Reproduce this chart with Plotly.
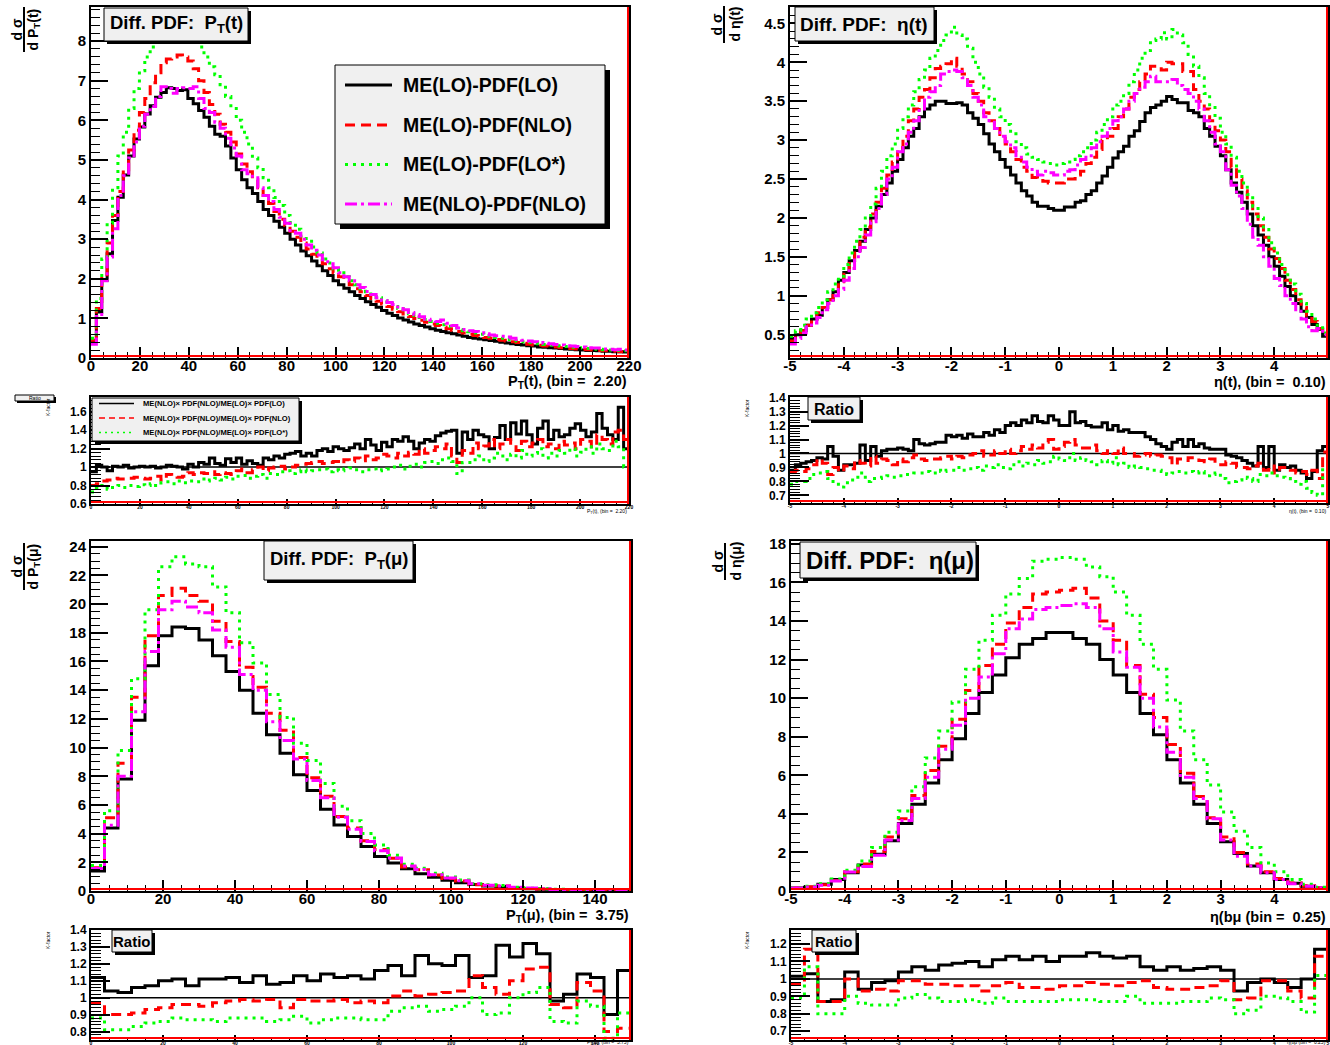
import numpy as np
import plotly.graph_objects as go

W, H = 1330, 1045
FONT = "Liberation Sans"
BLACK, RED, GREEN, MAGENTA = "#000000", "#ff0000", "#00ff00", "#ff00ff"

# ------------------------------------------------------------------
# P_T(t): 100 bins of 2.2 GeV
# ------------------------------------------------------------------
ptt_edges = np.round(np.arange(101) * 2.2, 4)
ptt_lo_lo = [
    0.42, 1.16, 1.96, 2.63, 3.47, 4.06, 4.62, 5.1, 5.53, 5.83,
    6.16, 6.37, 6.58, 6.7, 6.82, 6.8, 6.75, 6.77, 6.55, 6.42,
    6.25, 6.08, 5.85, 5.65, 5.6, 5.35, 5.05, 4.75, 4.5, 4.3,
    4.15, 3.95, 3.75, 3.6, 3.45, 3.3, 3.15, 3.0, 2.85, 2.7,
    2.58, 2.45, 2.33, 2.2, 2.08, 1.95, 1.85, 1.76, 1.67, 1.58,
    1.5, 1.42, 1.35, 1.28, 1.2, 1.13, 1.07, 1.01, 0.96, 0.91,
    0.86, 0.82, 0.78, 0.74, 0.7, 0.67, 0.64, 0.61, 0.58, 0.55,
    0.52, 0.5, 0.48, 0.46, 0.44, 0.42, 0.4, 0.38, 0.36, 0.34,
    0.33, 0.31, 0.3, 0.28, 0.27, 0.26, 0.25, 0.24, 0.23, 0.22,
    0.21, 0.2, 0.19, 0.19, 0.18, 0.17, 0.17, 0.16, 0.16, 0.15]
ptt_lo_nlo = [
    0.45, 1.25, 2.1, 2.9, 3.6, 4.2, 4.75, 5.25, 5.75, 6.2,
    6.55, 6.95, 7.2, 7.45, 7.55, 7.6, 7.65, 7.6, 7.5, 7.3,
    7.0, 6.7, 6.4, 6.15, 5.9, 5.7, 5.45, 5.15, 4.9, 4.7,
    4.5, 4.3, 4.1, 3.9, 3.7, 3.5, 3.35, 3.2, 3.05, 2.9,
    2.75, 2.62, 2.5, 2.38, 2.25, 2.15, 2.05, 1.95, 1.85, 1.75,
    1.67, 1.58, 1.5, 1.43, 1.36, 1.3, 1.23, 1.17, 1.11, 1.05,
    1.0, 0.95, 0.9, 0.86, 0.82, 0.78, 0.74, 0.7, 0.67, 0.63,
    0.6, 0.57, 0.55, 0.52, 0.5, 0.47, 0.45, 0.43, 0.41, 0.39,
    0.37, 0.35, 0.33, 0.32, 0.3, 0.29, 0.28, 0.26, 0.25, 0.24,
    0.23, 0.22, 0.21, 0.2, 0.19, 0.18, 0.18, 0.17, 0.16, 0.15]
ptt_lo_los = [
    0.5, 1.5, 2.5, 3.4, 4.3, 5.1, 5.7, 6.3, 6.8, 7.25,
    7.6, 7.85, 8.05, 8.2, 8.3, 8.35, 8.3, 8.25, 8.15, 8.0,
    7.85, 7.6, 7.35, 7.15, 6.9, 6.6, 6.3, 6.0, 5.7, 5.4,
    5.05, 4.8, 4.55, 4.3, 4.05, 3.85, 3.6, 3.42, 3.25, 3.08,
    2.95, 2.8, 2.65, 2.5, 2.4, 2.25, 2.15, 2.05, 1.95, 1.85,
    1.75, 1.67, 1.6, 1.52, 1.45, 1.38, 1.3, 1.25, 1.18, 1.12,
    1.07, 1.02, 0.97, 0.92, 0.88, 0.84, 0.8, 0.76, 0.72, 0.69,
    0.66, 0.63, 0.6, 0.57, 0.54, 0.52, 0.5, 0.47, 0.45, 0.43,
    0.41, 0.39, 0.37, 0.36, 0.34, 0.33, 0.31, 0.3, 0.29, 0.27,
    0.26, 0.25, 0.24, 0.23, 0.22, 0.21, 0.2, 0.19, 0.19, 0.18]
ptt_nlo_nlo = [
    0.35, 1.05, 1.95, 2.55, 3.26, 4.1, 4.6, 5.05, 5.45, 5.85,
    6.15, 6.35, 6.6, 6.85, 6.8, 6.68, 6.8, 6.82, 6.8, 6.85,
    6.55, 6.3, 6.2, 5.95, 5.8, 5.55, 5.3, 5.1, 4.75, 4.65,
    4.55, 4.3, 4.1, 3.95, 3.75, 3.55, 3.4, 3.22, 3.15, 3.0,
    2.85, 2.72, 2.6, 2.48, 2.38, 2.28, 2.15, 2.05, 1.95, 1.85,
    1.78, 1.68, 1.6, 1.52, 1.45, 1.4, 1.35, 1.29, 1.22, 1.15,
    1.1, 1.04, 0.98, 0.95, 0.92, 0.96, 0.88, 0.82, 0.76, 0.72,
    0.69, 0.67, 0.64, 0.61, 0.58, 0.56, 0.55, 0.53, 0.5, 0.47,
    0.45, 0.43, 0.41, 0.39, 0.37, 0.36, 0.34, 0.33, 0.31, 0.3,
    0.29, 0.28, 0.26, 0.25, 0.25, 0.23, 0.22, 0.21, 0.22, 0.2]
# K-factors: ME(NLO)xPDF(NLO) divided by each LO-ME variant
ptt_k_lo = [
    0.95, 1.02, 1.0, 0.96, 1.01, 1.0, 1.02, 0.99, 1.0, 1.01,
    1.0, 1.01, 0.99, 1.0, 1.02, 1.01, 1.0, 0.98, 1.03, 1.0,
    1.05, 1.03, 1.1, 1.04, 1.02, 1.09, 1.05, 1.1, 1.03, 1.07,
    1.04, 1.02, 1.1, 1.08, 1.12, 1.1, 1.14, 1.15, 1.17, 1.12,
    1.15, 1.12, 1.18, 1.2, 1.17, 1.22, 1.2, 1.18, 1.21, 1.25,
    1.2, 1.3, 1.24, 1.18, 1.27, 1.22, 1.3, 1.28, 1.33, 1.28,
    1.2, 1.26, 1.3, 1.28, 1.34, 1.37, 1.39, 1.4, 1.15, 1.38,
    1.3, 1.4, 1.35, 1.33, 1.2, 1.32, 1.45, 1.3, 1.48, 1.36,
    1.5, 1.35, 1.25, 1.42, 1.5, 1.3, 1.4, 1.33, 1.35, 1.42,
    1.47, 1.4, 1.33, 1.38, 1.58, 1.42, 1.35, 1.3, 1.65, 1.2]
ptt_k_nlo = [
    0.8, 0.82, 0.85, 0.86, 0.88, 0.87, 0.87, 0.88, 0.89, 0.88,
    0.87, 0.88, 0.9, 0.86, 0.92, 0.9, 0.89, 0.9, 0.94, 0.92,
    0.94, 0.93, 0.95, 0.92, 0.94, 0.93, 0.92, 0.96, 0.98, 0.94,
    0.97, 1.0, 0.96, 0.99, 1.0, 1.01, 0.98, 1.0, 1.02, 1.03,
    1.04, 1.05, 1.06, 1.04, 1.05, 1.06, 1.04, 1.08, 1.06, 1.1,
    1.07, 1.12, 1.08, 1.1, 1.14, 1.12, 1.1, 1.15, 1.12, 1.16,
    1.14, 1.2, 1.15, 1.18, 1.22, 1.2, 1.25, 1.12, 1.05, 1.18,
    1.15, 1.26, 1.2, 1.23, 1.3, 1.2, 1.25, 1.3, 1.22, 1.18,
    1.28, 1.22, 1.26, 1.3, 1.22, 1.25, 1.2, 1.28, 1.24, 1.26,
    1.2, 1.3, 1.28, 1.22, 1.35, 1.3, 1.25, 1.38, 1.4, 1.3]
ptt_k_los = [
    0.73, 0.77, 0.8, 0.76, 0.78, 0.8, 0.78, 0.8, 0.79, 0.81,
    0.8, 0.82, 0.8, 0.83, 0.84, 0.82, 0.85, 0.83, 0.85, 0.84,
    0.87, 0.85, 0.86, 0.88, 0.86, 0.89, 0.87, 0.9, 0.91, 0.88,
    0.9, 0.92, 0.88, 0.93, 0.92, 0.95, 0.96, 0.93, 0.95, 0.97,
    0.95, 0.96, 0.97, 0.98, 0.95, 0.97, 0.96, 0.98, 0.99, 0.97,
    0.95, 0.97, 0.98, 0.96, 0.97, 0.98, 1.0, 1.02, 0.98, 1.01,
    1.03, 1.0, 1.05, 1.06, 1.04, 1.08, 1.1, 1.06, 0.93, 1.05,
    1.05, 1.08, 1.12, 1.06, 1.1, 1.15, 1.12, 1.08, 1.14, 1.1,
    1.18, 1.12, 1.15, 1.2, 1.1, 1.15, 1.12, 1.18, 1.15, 1.2,
    1.12, 1.16, 1.22, 1.15, 1.25, 1.2, 1.18, 1.28, 1.22, 1.0]

# ------------------------------------------------------------------
# eta(t): 100 bins of 0.1
# ------------------------------------------------------------------
etat_edges = np.round(np.linspace(-5, 5, 101), 4)
etat_lo_lo = [
    0.45, 0.5, 0.55, 0.62, 0.7, 0.75, 0.85, 0.95, 1.05, 1.2,
    1.3, 1.45, 1.58, 1.7, 1.85, 2.0, 2.15, 2.3, 2.45, 2.6,
    2.75, 2.9, 3.05, 3.15, 3.3, 3.4, 3.45, 3.5, 3.5, 3.47,
    3.47, 3.48, 3.45, 3.35, 3.28, 3.2, 3.08, 2.95, 2.85, 2.75,
    2.65, 2.55, 2.45, 2.35, 2.28, 2.2, 2.15, 2.15, 2.12, 2.1,
    2.1, 2.14, 2.14, 2.2, 2.22, 2.3, 2.35, 2.45, 2.54, 2.65,
    2.77, 2.85, 2.92, 3.05, 3.12, 3.24, 3.35, 3.42, 3.45, 3.5,
    3.56, 3.52, 3.48, 3.48, 3.38, 3.35, 3.3, 3.15, 3.05, 2.92,
    2.8, 2.62, 2.45, 2.33, 2.2, 2.05, 1.9, 1.78, 1.65, 1.5,
    1.38, 1.25, 1.12, 1.0, 0.9, 0.8, 0.72, 0.63, 0.57, 0.48]
etat_lo_nlo = [
    0.42, 0.48, 0.55, 0.62, 0.7, 0.78, 0.85, 0.95, 1.05, 1.18,
    1.3, 1.45, 1.6, 1.75, 1.88, 2.05, 2.2, 2.38, 2.55, 2.72,
    2.9, 3.05, 3.25, 3.4, 3.55, 3.65, 3.8, 3.92, 3.95, 3.98,
    4.05, 3.95, 3.85, 3.75, 3.6, 3.5, 3.35, 3.25, 3.15, 3.05,
    2.95, 2.85, 2.75, 2.65, 2.6, 2.52, 2.48, 2.47, 2.45, 2.45,
    2.45, 2.5, 2.5, 2.55, 2.6, 2.7, 2.78, 2.88, 3.0, 3.05,
    3.15, 3.3, 3.4, 3.55, 3.65, 3.75, 3.85, 3.95, 3.95, 3.9,
    4.0, 3.98, 3.98, 3.88, 3.88, 3.65, 3.5, 3.4, 3.25, 3.12,
    3.0, 2.85, 2.65, 2.5, 2.35, 2.2, 2.05, 1.9, 1.75, 1.6,
    1.48, 1.35, 1.2, 1.08, 0.95, 0.85, 0.75, 0.67, 0.58, 0.5]
etat_lo_los = [
    0.48, 0.55, 0.62, 0.7, 0.78, 0.85, 0.95, 1.05, 1.15, 1.25,
    1.4, 1.55, 1.7, 1.85, 2.0, 2.18, 2.38, 2.6, 2.8, 2.95,
    3.15, 3.3, 3.45, 3.62, 3.78, 3.9, 4.05, 4.15, 4.28, 4.35,
    4.45, 4.35, 4.3, 4.18, 4.0, 3.85, 3.68, 3.55, 3.4, 3.3,
    3.2, 3.08, 2.98, 2.9, 2.82, 2.78, 2.75, 2.72, 2.7, 2.68,
    2.7, 2.72, 2.75, 2.8, 2.85, 2.9, 3.0, 3.1, 3.2, 3.3,
    3.45, 3.5, 3.6, 3.75, 3.9, 4.05, 4.15, 4.28, 4.3, 4.38,
    4.3, 4.42, 4.35, 4.25, 4.1, 3.95, 3.8, 3.6, 3.42, 3.28,
    3.1, 2.95, 2.78, 2.6, 2.45, 2.3, 2.15, 2.0, 1.85, 1.68,
    1.55, 1.4, 1.27, 1.15, 1.02, 0.9, 0.8, 0.7, 0.62, 0.52]
etat_nlo_nlo = [
    0.38, 0.45, 0.52, 0.6, 0.65, 0.72, 0.82, 0.9, 1.0, 1.08,
    1.2, 1.35, 1.5, 1.62, 1.78, 1.95, 2.12, 2.3, 2.5, 2.65,
    2.85, 2.95, 3.1, 3.25, 3.38, 3.55, 3.62, 3.7, 3.85, 3.88,
    3.9, 3.88, 3.8, 3.7, 3.55, 3.45, 3.3, 3.25, 3.15, 3.05,
    2.98, 2.9, 2.8, 2.72, 2.65, 2.6, 2.55, 2.6, 2.58, 2.55,
    2.55, 2.6, 2.62, 2.68, 2.75, 2.8, 2.9, 2.98, 3.05, 3.15,
    3.25, 3.3, 3.4, 3.5, 3.6, 3.68, 3.75, 3.82, 3.75, 3.75,
    3.75, 3.78, 3.7, 3.65, 3.6, 3.5, 3.4, 3.25, 3.1, 2.95,
    2.85, 2.62, 2.42, 2.28, 2.12, 1.92, 1.75, 1.65, 1.5, 1.38,
    1.22, 1.13, 1.0, 0.9, 0.8, 0.7, 0.6, 0.55, 0.58, 0.5]
etat_k_lo = [
    0.88, 0.92, 0.93, 0.94, 0.95, 0.97, 0.96, 1.05, 0.98, 0.88,
    0.92, 0.92, 0.93, 1.06, 0.95, 1.05, 0.98, 1.02, 1.03, 1.03,
    1.04, 1.03, 1.02, 1.1, 1.07, 1.06, 1.07, 1.08, 1.08, 1.13,
    1.12, 1.13, 1.11, 1.14, 1.12, 1.12, 1.15, 1.13, 1.17, 1.15,
    1.2, 1.22, 1.2, 1.24, 1.22, 1.27, 1.23, 1.22, 1.27, 1.24,
    1.2, 1.2, 1.3, 1.22, 1.23, 1.2, 1.19, 1.19, 1.22, 1.17,
    1.2, 1.16, 1.17, 1.15, 1.15, 1.15, 1.12, 1.1, 1.07, 1.05,
    1.03, 1.08, 1.1, 1.05, 1.1, 1.05, 1.07, 1.04, 1.03, 1.03,
    1.03, 0.99, 0.98, 0.97, 0.95, 0.93, 0.91, 1.05, 0.9, 1.05,
    0.88, 0.92, 0.9, 0.91, 0.88, 0.86, 0.82, 0.87, 1.02, 1.05]
etat_k_nlo = [
    0.87, 0.88, 0.87, 0.89, 0.92, 0.96, 0.93, 0.85, 0.9, 0.87,
    0.91, 0.89, 0.95, 0.93, 0.91, 0.98, 0.93, 0.96, 0.95, 0.92,
    0.96, 0.94, 0.97, 0.99, 0.96, 0.95, 0.96, 0.96, 0.97, 0.98,
    0.96, 0.98, 0.97, 0.99, 1.0, 1.02, 0.98, 0.99, 1.02, 1.0,
    1.03, 1.0, 1.02, 1.05, 1.03, 1.06, 1.04, 1.08, 1.1, 1.03,
    1.05, 1.08, 1.1, 1.06, 1.04, 1.04, 1.06, 1.02, 1.0, 1.02,
    1.0, 1.04, 1.0, 1.0, 0.98, 0.99, 1.0, 0.98, 0.99, 0.98,
    0.97, 0.92, 0.96, 0.95, 0.97, 0.97, 0.95, 0.94, 0.96, 0.92,
    0.92, 0.94, 0.93, 0.9, 0.9, 0.89, 0.91, 0.93, 0.88, 0.91,
    0.86, 0.9, 0.9, 0.88, 0.86, 0.87, 0.85, 0.88, 0.82, 1.01]
etat_k_los = [
    0.78, 0.8, 0.8, 0.82, 0.85, 0.86, 0.87, 0.82, 0.78, 0.76,
    0.79, 0.81, 0.83, 0.86, 0.8, 0.82, 0.82, 0.83, 0.84, 0.83,
    0.84, 0.85, 0.85, 0.86, 0.86, 0.87, 0.86, 0.88, 0.87, 0.88,
    0.88, 0.9, 0.88, 0.89, 0.9, 0.88, 0.91, 0.9, 0.92, 0.9,
    0.89, 0.92, 0.94, 0.91, 0.93, 0.92, 0.95, 0.93, 0.94, 0.98,
    0.96, 0.95, 1.0, 0.95, 0.97, 0.95, 0.94, 0.92, 0.95, 0.93,
    0.97, 0.92, 0.93, 0.9, 0.91, 0.9, 0.89, 0.88, 0.88, 0.87,
    0.85, 0.86, 0.87, 0.86, 0.87, 0.86, 0.87, 0.84, 0.85, 0.86,
    0.82, 0.79, 0.8, 0.81, 0.83, 0.82, 0.8, 0.85, 0.84, 0.86,
    0.84, 0.83, 0.82, 0.8, 0.78, 0.8, 0.75, 0.72, 0.7, 0.9]

# ------------------------------------------------------------------
# P_T(mu): 40 bins of 3.75 GeV
# ------------------------------------------------------------------
ptmu_edges = np.round(np.arange(41) * 3.75, 4)
ptmu_lo_lo = [
    1.4, 4.4, 7.8, 11.9, 15.7, 17.8, 18.4, 18.3, 17.5, 16.4,
    15.3, 14.0, 12.4, 10.9, 9.6, 8.1, 7.0, 5.7, 4.6, 3.8,
    3.1, 2.4, 1.95, 1.55, 1.2, 0.95, 0.75, 0.58, 0.45, 0.35,
    0.27, 0.21, 0.16, 0.13, 0.1, 0.08, 0.06, 0.05, 0.04, 0.03]
ptmu_lo_nlo = [
    1.62, 5.1, 8.9, 13.5, 17.8, 20.6, 21.1, 20.6, 20.2, 18.8,
    17.4, 15.6, 14.2, 12.4, 11.2, 9.3, 7.9, 6.6, 5.2, 4.4,
    3.5, 2.9, 2.28, 1.68, 1.48, 1.12, 0.87, 0.69, 0.44, 0.38,
    0.34, 0.24, 0.18, 0.14, 0.1, 0.085, 0.075, 0.053, 0.044, 0.043]
ptmu_lo_los = [
    1.78, 5.6, 9.8, 14.8, 19.6, 22.6, 23.3, 22.8, 22.6, 21.2,
    19.4, 17.3, 15.9, 13.7, 12.1, 10.3, 9.1, 7.5, 5.9, 4.9,
    4.0, 3.2, 2.5, 1.86, 1.58, 1.24, 0.97, 0.76, 0.5, 0.44,
    0.38, 0.26, 0.2, 0.15, 0.12, 0.09, 0.07, 0.06, 0.046, 0.04]
ptmu_nlo_nlo = [
    1.57, 4.58, 8.0, 12.5, 16.7, 19.6, 20.2, 19.8, 19.4, 18.2,
    17.0, 15.1, 14.0, 11.8, 10.5, 9.2, 7.7, 6.5, 5.15, 4.3,
    3.45, 2.8, 2.3, 1.75, 1.5, 1.14, 0.9, 0.72, 0.5, 0.4,
    0.35, 0.26, 0.21, 0.16, 0.1, 0.08, 0.07, 0.055, 0.035, 0.035]
ptmu_k_lo = [
    1.12, 1.04, 1.03, 1.06, 1.07, 1.1, 1.11, 1.07, 1.11, 1.11,
    1.12, 1.09, 1.13, 1.08, 1.09, 1.13, 1.1, 1.14, 1.12, 1.13,
    1.11, 1.16, 1.19, 1.13, 1.25, 1.2, 1.19, 1.25, 1.12, 1.13,
    1.31, 1.24, 1.32, 1.26, 0.98, 1.02, 1.14, 1.12, 0.9, 1.16]
ptmu_k_nlo = [
    0.97, 0.9, 0.9, 0.91, 0.93, 0.94, 0.96, 0.96, 0.95, 0.97,
    0.98, 0.99, 0.98, 0.99, 0.94, 0.99, 0.98, 0.98, 0.99, 0.97,
    0.98, 0.97, 1.01, 1.04, 1.01, 1.02, 1.03, 1.04, 1.13, 1.06,
    1.02, 1.1, 1.17, 1.18, 0.96, 0.94, 1.09, 1.04, 0.8, 0.82]
ptmu_k_los = [
    0.88, 0.81, 0.81, 0.83, 0.85, 0.86, 0.88, 0.87, 0.87, 0.86,
    0.88, 0.88, 0.88, 0.86, 0.87, 0.89, 0.85, 0.87, 0.88, 0.88,
    0.87, 0.87, 0.92, 0.94, 0.95, 0.92, 0.93, 0.95, 1.0, 0.9,
    0.91, 1.0, 1.03, 1.06, 0.86, 0.85, 0.98, 0.95, 0.76, 0.91]

# ------------------------------------------------------------------
# eta(mu): 40 bins of 0.25
# ------------------------------------------------------------------
etamu_edges = np.round(np.linspace(-5, 5, 41), 4)
etamu_lo_lo = [
    0.15, 0.2, 0.35, 0.6, 0.95, 1.35, 1.9, 2.6, 3.5, 4.5,
    5.6, 6.8, 7.9, 9.2, 10.3, 11.2, 12.1, 12.8, 13.1, 13.4,
    13.4, 13.1, 12.8, 12.0, 11.2, 10.3, 9.2, 8.1, 6.8, 5.6,
    4.5, 3.5, 2.55, 1.95, 1.3, 0.95, 0.6, 0.4, 0.25, 0.15]
etamu_lo_nlo = [
    0.15, 0.22, 0.33, 0.55, 1.0, 1.4, 2.05, 2.8, 3.75, 4.95,
    6.25, 7.5, 8.9, 10.4, 11.7, 12.8, 13.9, 14.7, 15.4, 15.5,
    15.6, 15.7, 15.2, 14.0, 13.0, 11.7, 10.2, 9.0, 7.6, 6.1,
    4.9, 3.8, 2.8, 2.0, 1.4, 1.0, 0.65, 0.42, 0.27, 0.15]
etamu_lo_los = [
    0.17, 0.25, 0.38, 0.62, 1.08, 1.55, 2.25, 3.05, 4.15, 5.4,
    6.9, 8.3, 9.8, 11.5, 13.0, 14.3, 15.4, 16.2, 17.1, 17.2,
    17.3, 17.2, 16.8, 16.3, 15.5, 14.3, 12.8, 11.5, 9.9, 8.3,
    6.8, 5.5, 4.1, 3.1, 2.25, 1.45, 1.0, 0.6, 0.35, 0.2]
etamu_nlo_nlo = [
    0.15, 0.21, 0.3, 0.52, 0.98, 1.27, 1.86, 2.65, 3.65, 4.8,
    5.9, 7.35, 8.6, 10.0, 11.1, 12.3, 13.6, 14.1, 14.6, 14.7,
    14.8, 14.9, 14.7, 13.6, 12.4, 11.6, 10.0, 8.5, 7.2, 5.9,
    4.8, 3.75, 2.65, 1.8, 1.3, 0.95, 0.6, 0.38, 0.25, 0.17]
etamu_k_lo = [
    1.015, 1.03, 0.87, 0.88, 1.04, 0.94, 0.98, 0.99, 1.04, 1.07,
    1.05, 1.08, 1.09, 1.1, 1.07, 1.11, 1.13, 1.11, 1.13, 1.1,
    1.13, 1.13, 1.15, 1.13, 1.12, 1.13, 1.07, 1.05, 1.07, 1.05,
    1.06, 1.07, 1.05, 0.93, 0.98, 1.0, 0.98, 0.95, 1.0, 1.17]
etamu_k_nlo = [
    0.97, 1.17, 0.87, 0.87, 1.0, 0.93, 0.94, 0.93, 0.99, 0.99,
    0.97, 0.97, 0.96, 0.96, 0.93, 0.96, 0.98, 0.95, 0.95, 0.94,
    0.96, 0.96, 0.98, 0.97, 0.96, 0.98, 0.99, 0.95, 0.94, 0.94,
    0.95, 0.96, 0.99, 0.88, 0.89, 0.99, 0.99, 0.93, 0.89, 1.13]
etamu_k_los = [
    0.89, 1.07, 0.8, 0.8, 0.9, 0.86, 0.85, 0.85, 0.89, 0.91,
    0.89, 0.87, 0.87, 0.88, 0.86, 0.89, 0.87, 0.87, 0.87, 0.87,
    0.88, 0.88, 0.88, 0.87, 0.87, 0.9, 0.86, 0.86, 0.86, 0.87,
    0.87, 0.89, 0.88, 0.8, 0.82, 0.9, 0.89, 0.87, 0.81, 1.02]

# pseudorapidity axis tick labels (plain hyphen minus, as ROOT prints them)
ETA_TICKS = [-5, -4, -3, -2, -1, 0, 1, 2, 3, 4, 5]
ETA_LABELS = ["-5", "-4", "-3", "-2", "-1", "0", "1", "2", "3", "4", "5"]

LEGEND_MAIN = ["ME(LO)-PDF(LO)", "ME(LO)-PDF(NLO)", "ME(LO)-PDF(LO*)", "ME(NLO)-PDF(NLO)"]
LEGEND_RATIO = ["ME(NLO)\u00d7 PDF(NLO)/ME(LO)\u00d7 PDF(LO)",
                "ME(NLO)\u00d7 PDF(NLO)/ME(LO)\u00d7 PDF(NLO)",
                "ME(NLO)\u00d7 PDF(NLO)/ME(LO)\u00d7 PDF(LO*)"]

# line styles (ROOT-like: solid, dashed, dotted, dash-dot)
MAIN_STYLES = [(BLACK, "solid"), (RED, "10px,6px"), (GREEN, "3px,5px"), (MAGENTA, "12px,4px,3px,4px")]
RATIO_STYLES = [(BLACK, "solid"), (RED, "10px,6px"), (GREEN, "3px,5px")]


def px(x):
    return x / W


def py(y):
    return 1 - y / H


def sfx(n):
    return "" if n == 1 else str(n)


fig = go.Figure()


def hist(edges, vals, color, dash, n, width=3):
    xs = list(edges)
    ys = list(vals) + [vals[-1]]
    fig.add_trace(go.Scatter(
        x=xs, y=ys, mode="lines",
        line=dict(shape="hv", color=color, dash=dash, width=width),
        xaxis=f"x{sfx(n)}", yaxis=f"y{sfx(n)}", showlegend=False, hoverinfo="skip"))


# panel definitions: pixel box (left, right, top, bottom)
panels = [
    dict(n=1, edges=ptt_edges, data=[ptt_lo_lo, ptt_lo_nlo, ptt_lo_los, ptt_nlo_nlo],
         box=(91, 629, 7, 358), xr=[0, 220], yr=[0, 8.86], xd=20, xm=5, yd=1, ym=0.2, main=True, eta=False),
    dict(n=2, edges=ptt_edges, data=[ptt_k_lo, ptt_k_nlo, ptt_k_los],
         box=(91, 629, 397, 504), xr=[0, 220], yr=[0.6, 1.76], xd=20, xm=5, yd=0.2, ym=0.04, main=False, eta=False),
    dict(n=3, edges=etat_edges, data=[etat_lo_lo, etat_lo_nlo, etat_lo_los, etat_nlo_nlo],
         box=(790, 1328, 7, 358), xr=[-5, 5], yr=[0.2, 4.71], xd=1, xm=0.2, yd=0.5, ym=0.1, main=True, eta=True),
    dict(n=4, edges=etat_edges, data=[etat_k_lo, etat_k_nlo, etat_k_los],
         box=(790, 1328, 397, 503), xr=[-5, 5], yr=[0.645, 1.405], xd=1, xm=0.2, yd=0.1, ym=0.02, main=False, eta=True),
    dict(n=5, edges=ptmu_edges, data=[ptmu_lo_lo, ptmu_lo_nlo, ptmu_lo_los, ptmu_nlo_nlo],
         box=(91, 631, 541, 891), xr=[0, 150], yr=[0, 24.4], xd=20, xm=5, yd=2, ym=0.5, main=True, eta=False),
    dict(n=6, edges=ptmu_edges, data=[ptmu_k_lo, ptmu_k_nlo, ptmu_k_los],
         box=(91, 631, 930, 1040), xr=[0, 150], yr=[0.75, 1.4], xd=20, xm=5, yd=0.1, ym=0.02, main=False, eta=False),
    dict(n=7, edges=etamu_edges, data=[etamu_lo_lo, etamu_lo_nlo, etamu_lo_los, etamu_nlo_nlo],
         box=(791, 1328, 541, 891), xr=[-5, 5], yr=[0, 18.15], xd=1, xm=0.25, yd=2, ym=0.5, main=True, eta=True),
    dict(n=8, edges=etamu_edges, data=[etamu_k_lo, etamu_k_nlo, etamu_k_los],
         box=(791, 1328, 930, 1040), xr=[-5, 5], yr=[0.65, 1.28], xd=1, xm=0.25, yd=0.1, ym=0.02, main=False, eta=True),
]

layout_axes = {}
shapes = []
for p in panels:
    n = p["n"]
    s = sfx(n)
    l, r, t, b = p["box"]
    styles = MAIN_STYLES if p["main"] else RATIO_STYLES
    if not p["main"]:
        shapes.append(dict(type="line", xref=f"x{s} domain", yref=f"y{s}", x0=0, x1=1, y0=1, y1=1,
                           line=dict(color=BLACK, width=1.5), layer="below"))
    for i in range(len(styles)):
        c, d = styles[i]
        hist(p["edges"], p["data"][i], c, d, n, width=3)
    xfs = 15 if p["main"] else 5
    yfs = 15 if p["main"] else 12
    ytl, ytm = (17, 9) if p["main"] else (19, 10)
    xtl, xtm = (11, 6) if p["main"] else (5, 3)
    xax = dict(
        domain=[px(l), px(r)], range=p["xr"], anchor=f"y{s}", automargin=False,
        showline=True, linecolor=BLACK, linewidth=2, mirror=True,
        ticks="inside", ticklen=xtl, tickwidth=1.5, tickcolor=BLACK,
        ticklabelstandoff=-7 if p["main"] else -3,
        minor=dict(ticks="inside", ticklen=xtm, tickwidth=1, tickcolor=BLACK, tick0=0, dtick=p["xm"]),
        showgrid=False, zeroline=False, fixedrange=True,
        tickfont=dict(family=FONT, size=xfs, color=BLACK, weight="bold"))
    if p["eta"]:
        xax.update(tickmode="array", tickvals=ETA_TICKS, ticktext=ETA_LABELS)
    else:
        xax.update(tick0=0, dtick=p["xd"])
    layout_axes[f"xaxis{s}"] = xax
    layout_axes[f"yaxis{s}"] = dict(
        domain=[py(b), py(t)], range=p["yr"], anchor=f"x{s}", automargin=False,
        showline=True, linecolor=BLACK, linewidth=2, mirror=True,
        ticks="inside", ticklen=ytl, tickwidth=1.5, tickcolor=BLACK,
        tick0=0, dtick=p["yd"],
        minor=dict(ticks="inside", ticklen=ytm, tickwidth=1, tickcolor=BLACK, tick0=0, dtick=p["ym"]),
        showgrid=False, zeroline=False, fixedrange=True,
        tickfont=dict(family=FONT, size=yfs, color=BLACK, weight="bold"))
    # red outline of the overlaid empty histogram (bottom and right edge)
    shapes.append(dict(type="line", xref=f"x{s} domain", yref=f"y{s} domain",
                       x0=0, x1=1, y0=2.0 / (b - t), y1=2.0 / (b - t),
                       line=dict(color=RED, width=2), layer="above"))
    shapes.append(dict(type="line", xref=f"x{s} domain", yref=f"y{s} domain",
                       x0=1 - 1.0 / (r - l), x1=1 - 1.0 / (r - l), y0=0, y1=1,
                       line=dict(color=RED, width=2), layer="above"))

annotations = []


def rect(x0, y0, x1, y1, fill="#f0f0f0", shadow=3):
    if shadow:
        shapes.append(dict(type="rect", xref="paper", yref="paper",
                           x0=px(x0 + shadow), x1=px(x1 + shadow), y0=py(y1 + shadow), y1=py(y0 + shadow),
                           fillcolor=BLACK, line=dict(width=0), layer="above"))
    shapes.append(dict(type="rect", xref="paper", yref="paper",
                       x0=px(x0), x1=px(x1), y0=py(y1), y1=py(y0),
                       fillcolor=fill, line=dict(color=BLACK, width=1), layer="above"))


def text(s, x, y, size, xanchor="left", yanchor="middle", angle=0, bold=True):
    annotations.append(dict(
        text=f"<b>{s}</b>" if bold else s, x=px(x), y=py(y), xref="paper", yref="paper",
        xanchor=xanchor, yanchor=yanchor, showarrow=False, textangle=angle,
        font=dict(family=FONT, size=size, color=BLACK)))


def hline(x0, x1, y, color, dash, width):
    shapes.append(dict(type="line", xref="paper", yref="paper", x0=px(x0), x1=px(x1), y0=py(y), y1=py(y),
                       line=dict(color=color, dash=dash, width=width), layer="above"))


def vline(x, y0, y1, width=1.5):
    shapes.append(dict(type="line", xref="paper", yref="paper", x0=px(x), x1=px(x), y0=py(y0), y1=py(y1),
                       line=dict(color=BLACK, width=width), layer="above"))


# pad titles
rect(104, 8, 248, 41)
text("Diff. PDF:  P<sub>T</sub>(t)", 108, 24, 18.5)
rect(795, 7, 934, 41)
text("Diff. PDF:  \u03b7(t)", 798, 24, 19)
rect(264, 541, 413, 580)
text("Diff. PDF:  P<sub>T</sub>(\u03bc)", 268, 560, 18.5)
rect(800, 542, 976, 578)
text("Diff. PDF:  \u03b7(\u03bc)", 804, 560, 24)

# main legend
rect(335, 65, 605, 224, shadow=5)
for i, (lab, ly) in enumerate(zip(LEGEND_MAIN, [85, 125, 164.5, 204])):
    c, d = MAIN_STYLES[i]
    hline(345, 392, ly, c, d, 3)
    text(lab, 401, ly, 19.5)

# ratio legend
rect(92, 398, 299, 441, shadow=3)
for i, (lab, ly) in enumerate(zip(LEGEND_RATIO, [403.5, 418, 432.5])):
    c, d = RATIO_STYLES[i]
    dd = {"solid": "solid", "10px,6px": "6px,4px", "3px,5px": "2px,4px"}[d]
    hline(99, 134, ly, c, dd, 1.5)
    text(lab, 141, ly, 7.6)

# "Ratio" boxes of the K-factor pads
rect(15, 395, 54, 401, shadow=2)
text("Ratio", 34.5, 398, 5, xanchor="center", bold=False)
rect(808, 397, 860, 420)
text("Ratio", 834, 409, 16, xanchor="center")
rect(112, 930, 152, 952)
text("Ratio", 132, 941, 15, xanchor="center")
rect(812, 930, 856, 952)
text("Ratio", 834, 941, 15, xanchor="center")

# y-axis titles  d sigma / d x
for (xn, xl, xd, ytop, ybot, den) in [
    (16, 24, 33, 7, 52, "d P<sub>T</sub>(t)"),
    (716, 724, 734, 6, 43, "d \u03b7(t)"),
    (16, 24, 33, 543, 590, "d P<sub>T</sub>(\u03bc)"),
    (717, 725, 735, 543, 580, "d \u03b7(\u03bc)"),
]:
    mid = (ytop + ybot) / 2
    text("d \u03c3", xn, mid, 14, xanchor="center", angle=-90)
    vline(xl, ytop, ybot, width=2)
    text(den, xd, mid, 14, xanchor="center", angle=-90)

# x-axis titles
text("P<sub>T</sub>(t), (bin =  2.20)", 629, 382, 14.5, xanchor="right")
text("\u03b7(t), (bin =  0.10)", 1328, 382, 14.5, xanchor="right")
text("P<sub>T</sub>(\u03bc), (bin =  3.75)", 631, 916, 14.5, xanchor="right")
text("\u03b7(b\u03bc (bin =  0.25)", 1328, 917, 14.5, xanchor="right")

# tiny captions of the K-factor pads
text("P<sub>T</sub>(t), (bin =  2.20)", 629, 511, 5, xanchor="right", bold=False)
text("\u03b7(t), (bin =  0.10)", 1328, 511, 5, xanchor="right", bold=False)
text("P<sub>T</sub>(\u03bc), (bin =  3.75)", 631, 1042, 5, xanchor="right", bold=False)
text("\u03b7(b\u03bc (bin =  0.25)", 1328, 1042, 5, xanchor="right", bold=False)
for (kx, ky) in [(48, 407), (747, 408), (48, 940), (747, 940)]:
    text("K-factor", kx, ky, 5, xanchor="center", angle=-90, bold=False)

fig.update_layout(
    width=W, height=H, margin=dict(l=0, r=0, t=0, b=0, autoexpand=False),
    paper_bgcolor="white", plot_bgcolor="white",
    showlegend=False, shapes=shapes, annotations=annotations,
    font=dict(family=FONT, color=BLACK),
    **layout_axes)

fig.write_html("out.html")
